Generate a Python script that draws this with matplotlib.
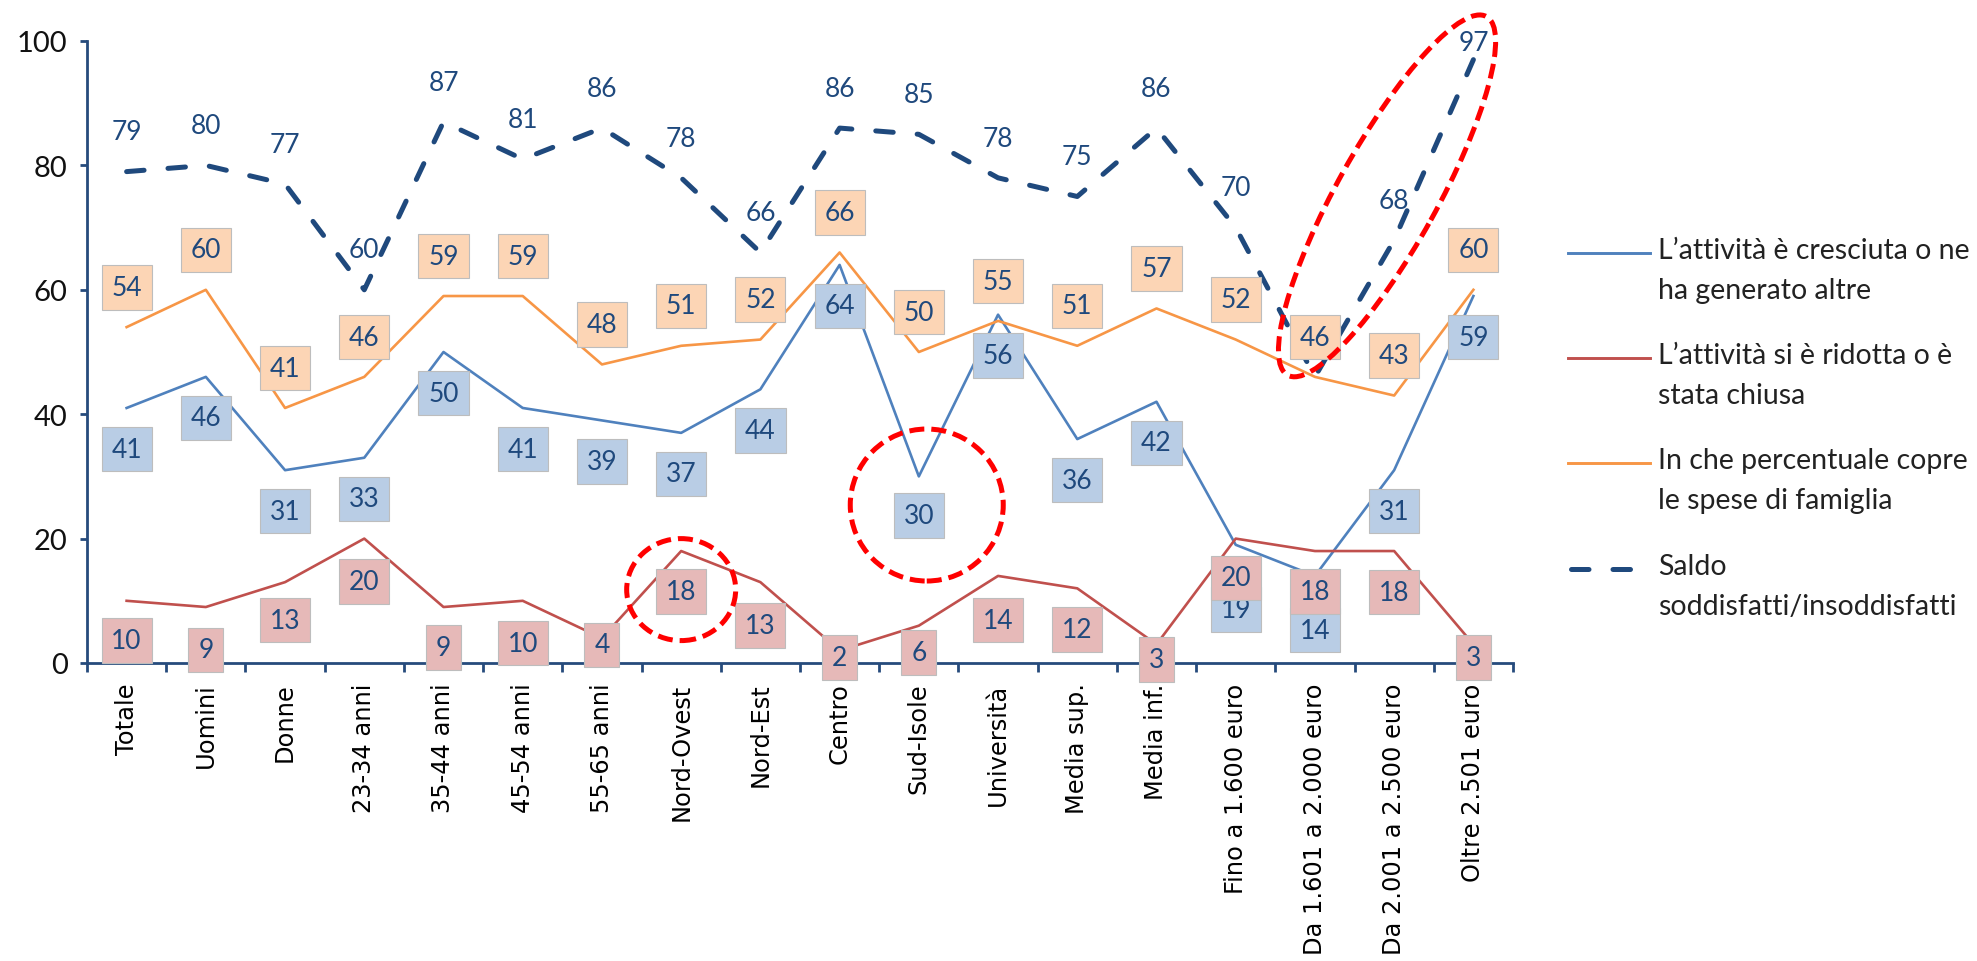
import matplotlib
matplotlib.use("Agg")
import matplotlib.pyplot as plt
from matplotlib.patches import Ellipse
from matplotlib.lines import Line2D
from matplotlib.transforms import IdentityTransform
import numpy as np

plt.rcParams['font.family'] = ['Lato', 'DejaVu Sans']

# ---------------- data ----------------
categories = ["Totale", "Uomini", "Donne", "23-34 anni", "35-44 anni", "45-54 anni",
              "55-65 anni", "Nord-Ovest", "Nord-Est", "Centro", "Sud-Isole", "Università",
              "Media sup.", "Media inf.", "Fino a 1.600 euro", "Da 1.601 a 2.000 euro",
              "Da 2.001 a 2.500 euro", "Oltre 2.501 euro"]
cresciuta = [41, 46, 31, 33, 50, 41, 39, 37, 44, 64, 30, 56, 36, 42, 19, 14, 31, 59]
ridotta = [10, 9, 13, 20, 9, 10, 4, 18, 13, 2, 6, 14, 12, 3, 20, 18, 18, 3]
copre = [54, 60, 41, 46, 59, 59, 48, 51, 52, 66, 50, 55, 51, 57, 52, 46, 43, 60]
saldo = [79, 80, 77, 60, 87, 81, 86, 78, 66, 86, 85, 78, 75, 86, 70, 46, 68, 97]

series_names = ["L’attività è cresciuta o ne\nha generato altre",
                "L’attività si è ridotta o è\nstata chiusa",
                "In che percentuale copre\nle spese di famiglia",
                "Saldo\nsoddisfatti/insoddisfatti"]
yticks = [0, 20, 40, 60, 80, 100]

# label placement (data units)
blue_label_y = [v - 6.6 for v in cresciuta]
blue_label_y[10] = 23.7
blue_label_y[14] = 8.6
blue_label_y[15] = 5.3
red_label_y = [3.6, 2.1, 6.9, 13.1, 2.5, 3.2, 2.9, 11.5, 6.0, 0.9, 1.7, 6.9, 5.4, 0.6, 13.7, 11.5, 11.4, 0.9]
orange_label_y = [v + 6.4 for v in copre]
saldo_label_y = [v + 6.4 for v in saldo]
saldo_label_y[17] = 99.8

# ---------------- style ----------------
C_BLUE = '#4F81BD'
C_RED = '#C0504D'
C_ORANGE = '#F79646'
C_DARK = '#1F497D'
C_AXIS = '#264B7C'
F_BLUE = '#B9CDE5'
F_RED = '#E6B9B8'
F_ORANGE = '#FCD5B5'
LBL_COLOR = '#1F497D'
DASH = (0, (3.5, 4.8))

W, H = 1977, 962
fig = plt.figure(figsize=(W / 100, H / 100), dpi=100)
ax_left, ax_right, ax_top, ax_bot = 87, 1513, 42, 664
ax = fig.add_axes([ax_left / W, 1 - ax_bot / H, (ax_right - ax_left) / W, (ax_bot - ax_top) / H])

x = np.arange(len(categories))
ax.plot(x, cresciuta, color=C_BLUE, lw=1.9, zorder=3)
ax.plot(x, ridotta, color=C_RED, lw=1.9, zorder=3)
ax.plot(x, copre, color=C_ORANGE, lw=1.9, zorder=3)
ax.plot(x, saldo, color=C_DARK, lw=3.6, linestyle=DASH,
        dash_capstyle='round', zorder=4)

ax.set_xlim(-0.5, len(categories) - 0.5)
ax.set_ylim(0, 100)

for s in ['top', 'right']:
    ax.spines[s].set_visible(False)
for s in ['left', 'bottom']:
    ax.spines[s].set_color(C_AXIS)
    ax.spines[s].set_linewidth(2.0)

ax.set_yticks(yticks)
ax.set_yticklabels([str(t) for t in yticks])
ax.tick_params(axis='y', direction='out', length=5, width=2, color=C_AXIS,
               labelsize=21, labelcolor='#111111', pad=9)

ax.set_xticks(np.arange(-0.5, len(categories), 1.0))
ax.set_xticklabels([])
ax.tick_params(axis='x', which='major', direction='out', length=6.5, width=2, color=C_AXIS)
ax.set_xticks(x, minor=True)
ax.set_xticklabels(categories, minor=True, rotation=90, fontfamily='DejaVu Sans',
                   fontsize=17.4, color='#000000', va='top', ha='center')
ax.tick_params(axis='x', which='minor', length=0, pad=14)


def box_label(xi, yi, txt, fc, z):
    ax.text(xi, yi, txt, ha='center', va='center', fontsize=19, color=LBL_COLOR,
            zorder=z, clip_on=False,
            bbox=dict(boxstyle='square,pad=0.37', fc=fc, ec='#BDBDBD', lw=0.8))


for i in range(len(categories)):
    box_label(i, blue_label_y[i], str(cresciuta[i]), F_BLUE, 6)
    box_label(i, red_label_y[i], str(ridotta[i]), F_RED, 7)
    box_label(i, orange_label_y[i], str(copre[i]), F_ORANGE, 6)
    ax.text(i, saldo_label_y[i], str(saldo[i]), ha='center', va='center', fontsize=19,
            color=LBL_COLOR, zorder=5, clip_on=False)

# ---------------- red dashed highlight ellipses ----------------
fig.canvas.draw()


def highlight(cx, cy, w, h, ang):
    px, py = ax.transData.transform((cx, cy))
    e = Ellipse((px, py), w, h, angle=ang, transform=IdentityTransform(),
                fill=False, ec='#FF0000', lw=3.6, linestyle=(0, (3, 1.4)), zorder=10)
    fig.add_artist(e)


highlight(7.0, 11.8, 109, 102, 0)
highlight(10.1, 25.4, 153, 152, 0)
highlight(15.91, 75.1, 410, 100, 61)

# ---------------- legend (manual) ----------------
leg_rows = [254, 359, 464, 570]
leg_styles = [dict(color=C_BLUE, lw=2.1),
              dict(color=C_RED, lw=2.1),
              dict(color=C_ORANGE, lw=2.1),
              dict(color=C_DARK, lw=3.6, linestyle=DASH, dash_capstyle='round')]
for yy, name, st in zip(leg_rows, series_names, leg_styles):
    yf = 1 - yy / H
    if st.get('lw') > 3:
        fig.add_artist(Line2D([1570.5 / W, 1629.5 / W], [yf, yf], transform=fig.transFigure, **st))
    else:
        fig.add_artist(Line2D([1568 / W, 1650 / W], [yf, yf], transform=fig.transFigure, **st))
    fig.text(1658 / W, yf + 16 / H, name, ha='left', va='top', fontsize=20.5,
             color='#222222', linespacing=1.65)

fig.savefig("out.png", dpi=100)
